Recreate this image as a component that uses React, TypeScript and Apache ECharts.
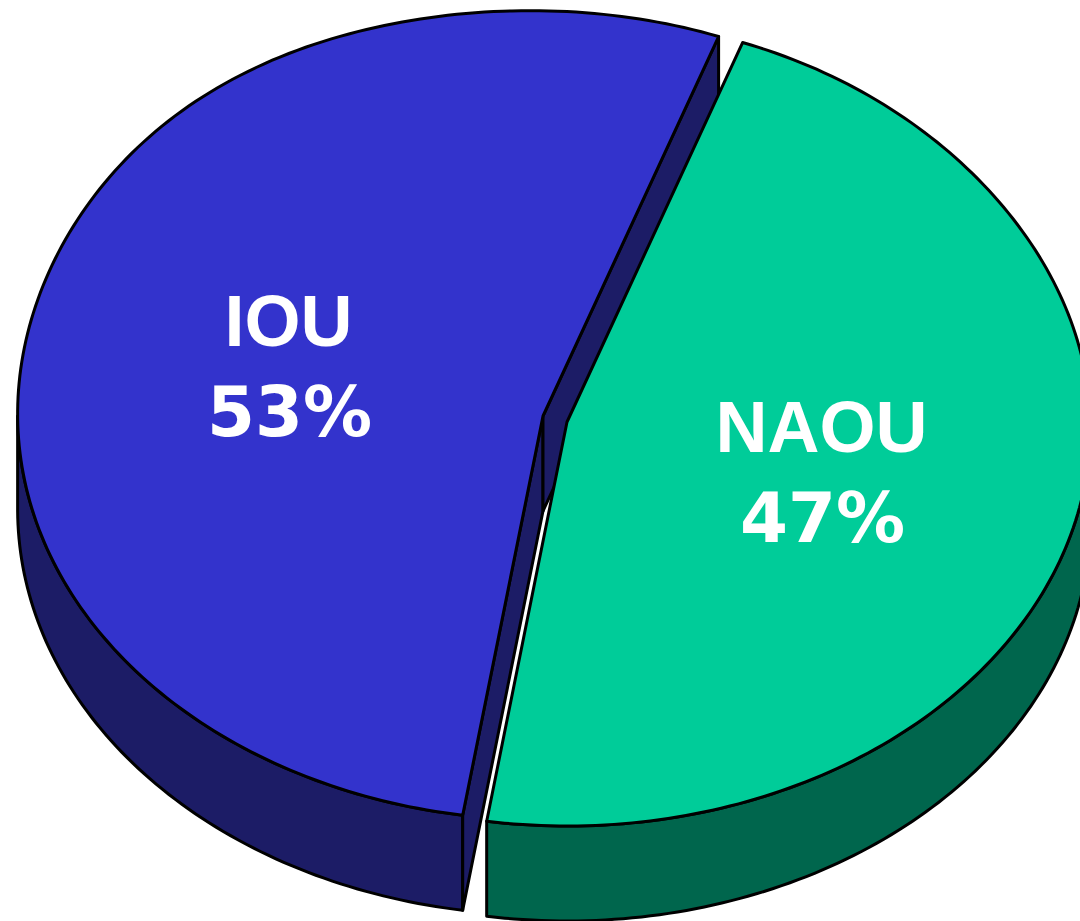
import React, { useEffect, useRef } from 'react';
import * as echarts from 'echarts';

// ---- data ----
const categories: string[] = ['IOU', 'NAOU'];
const values: number[] = [53, 47];

// ---- styling / layout ----
const topColors = ['#3333CC', '#00CC99'];
const sideColors = ['#1C1C66', '#00664D'];
const START_DEG = 188.8; // clockwise from 12 o'clock
const CX = 543;
const CY = 416;
const RX = 525;
const RY = 404;
const DEPTH = 95;
const EXPLODE: number[][] = [
  [0, 0],
  [24, 6],
];

// slight perspective distortion of the rim (fuller upper-left, flatter upper-right)
const rimScale = (deg: number) => {
  const d = ((deg % 360) + 360) % 360;
  const g = (c: number, w: number) => {
    let diff = Math.abs(d - c);
    if (diff > 180) diff = 360 - diff;
    return Math.exp(-((diff / w) ** 2));
  };
  return 1 + 0.022 * g(322, 28) - 0.013 * g(55, 30);
};

export default function App() {
  const ref = useRef<HTMLDivElement>(null);

  useEffect(() => {
    if (!ref.current) return;
    const chart = echarts.init(ref.current, null, { renderer: 'svg' });
    const total = values.reduce((a, b) => a + b, 0);
    const starts: number[] = [];
    let acc = START_DEG;
    values.forEach((v) => {
      starts.push(acc);
      acc += (v / total) * 360;
    });
    const rad = (d: number) => (d * Math.PI) / 180;

    const renderItem = (params: any, api: any) => {
      const i = params.dataIndex;
      const v = api.value(0);
      const a1 = starts[i];
      const a2 = a1 + (v / total) * 360;
      const [ox, oy] = EXPLODE[i];
      const cx = CX + ox;
      const cy = CY + oy;
      const pt = (deg: number, r = 1, dy = 0) => [
        cx + RX * r * Math.sin(rad(deg)),
        cy - RY * r * Math.cos(rad(deg)) + dy,
      ];
      const rim = (deg: number, dy = 0) => pt(deg, rimScale(deg), dy);
      const arc = (s: number, e: number, dy = 0) => {
        const pts: number[][] = [];
        const n = Math.max(2, Math.ceil(e - s));
        for (let k = 0; k <= n; k++) pts.push(rim(s + ((e - s) * k) / n, dy));
        return pts;
      };
      const stroke = { stroke: '#000', lineWidth: 3, lineJoin: 'round' };
      const children: any[] = [];
      // outer (front) wall
      for (const [lo, hi] of [
        [90, 270],
        [450, 630],
      ]) {
        const s = Math.max(a1, lo);
        const e = Math.min(a2, hi);
        if (e > s) {
          children.push({
            type: 'polygon',
            shape: { points: [...arc(s, e), ...arc(s, e, DEPTH).reverse()] },
            style: { fill: sideColors[i], ...stroke },
          });
        }
      }
      // radial cut faces
      const face = (deg: number) => {
        const p = rim(deg);
        return [
          [cx, cy],
          p,
          [p[0], p[1] + DEPTH],
          [cx, cy + DEPTH],
        ];
      };
      if (Math.sin(rad(a1)) < 0)
        children.push({ type: 'polygon', shape: { points: face(a1) }, style: { fill: sideColors[i], ...stroke } });
      if (Math.sin(rad(a2)) > 0)
        children.push({ type: 'polygon', shape: { points: face(a2) }, style: { fill: sideColors[i], ...stroke } });
      // top face
      children.push({
        type: 'polygon',
        shape: { points: [[cx, cy], ...arc(a1, a2)] },
        style: { fill: topColors[i], ...stroke },
      });
      // labels
      const mid = (a1 + a2) / 2;
      const lp = pt(mid, 0.5);
      children.push({
        type: 'text',
        style: {
          text: categories[i],
          x: lp[0],
          y: lp[1] - 45,
          fill: '#fff',
          fontSize: 72,
          fontWeight: 'bold',
          fontFamily: '"Liberation Sans", Arial, sans-serif',
          align: 'center',
          verticalAlign: 'middle',
        },
      });
      children.push({
        type: 'text',
        style: {
          text: Math.round((v / total) * 100) + '%',
          x: lp[0] + 1,
          y: lp[1] + 46,
          fill: '#fff',
          fontSize: 69,
          fontWeight: 'bold',
          fontFamily: '"DejaVu Sans", sans-serif',
          align: 'center',
          verticalAlign: 'middle',
        },
      });
      return { type: 'group', children };
    };

    chart.setOption({
      animation: false,
      backgroundColor: '#fff',
      series: [
        {
          type: 'custom',
          coordinateSystem: 'none',
          renderItem,
          data: values.map((v, i) => ({ name: categories[i], value: v })),
        },
      ],
    });
    return () => chart.dispose();
  }, []);

  return (
    <div
      ref={ref}
      style={{ position: 'absolute', left: 0, top: 0, width: 1080, height: 921 }}
    />
  );
}
